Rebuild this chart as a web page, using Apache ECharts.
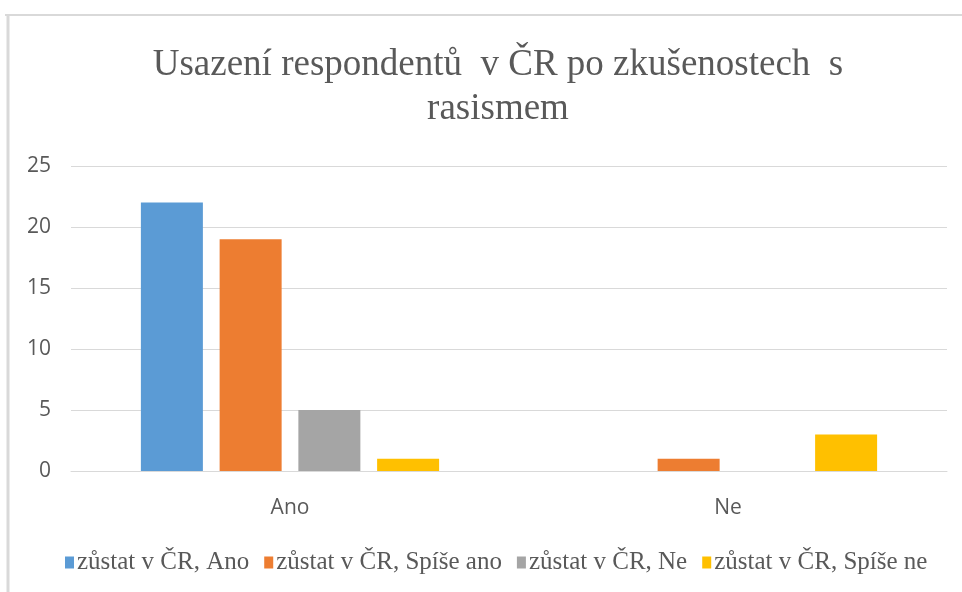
<!DOCTYPE html>
<html>
<head>
<meta charset="utf-8">
<script src="https://cdn.jsdelivr.net/npm/echarts@6/dist/echarts.min.js"></script>
<style>
  html, body { margin: 0; padding: 0; background: #fff; }
  #chart { width: 962px; height: 592px; }
</style>
</head>
<body>
<div id="chart"></div>
<script>
// kategorie a hodnoty
var categories = ['Ano', 'Ne'];
var seriesNames = ['zůstat v ČR, Ano', 'zůstat v ČR, Spíše ano', 'zůstat v ČR, Ne', 'zůstat v ČR, Spíše ne'];
var valuesAno = [22, 0];
var valuesSpiseAno = [19, 1];
var valuesNe = [5, 0];
var valuesSpiseNe = [1, 3];
var colors = ['#5B9BD5', '#ED7D31', '#A5A5A5', '#FFC000'];

var chart = echarts.init(document.getElementById('chart'));

var allValues = [valuesAno, valuesSpiseAno, valuesNe, valuesSpiseNe];
var series = seriesNames.map(function (name, i) {
  return {
    name: name,
    type: 'bar',
    data: allValues[i],
    barWidth: 62,
    barGap: '27%',
    itemStyle: { color: colors[i] }
  };
});

var option = {
  animation: false,
  title: {
    text: 'Usazení respondentů  v ČR po zkušenostech  s\nrasismem',
    left: 493,
    textAlign: 'center',
    top: 38,
    textStyle: {
      fontFamily: 'Liberation Serif',
      fontWeight: 'normal',
      fontSize: 37,
      lineHeight: 44,
      color: '#595959'
    }
  },
  legend: {
    data: seriesNames,
    bottom: 12,
    left: 60,
    icon: 'rect',
    itemWidth: 9,
    itemHeight: 12,
    itemGap: 15,
    textStyle: {
      fontFamily: 'Liberation Serif',
      fontSize: 25,
      color: '#595959',
      padding: [0, 0, 0, -2]
    }
  },
  grid: {
    left: 71,
    right: 15,
    top: 166,
    bottom: 121
  },
  xAxis: {
    type: 'category',
    data: categories,
    axisTick: { show: false },
    axisLine: { lineStyle: { color: '#d9d9d9', width: 1 } },
    axisLabel: {
      fontFamily: 'Open Sans',
      fontSize: 21,
      color: '#595959',
      margin: 27
    }
  },
  yAxis: {
    type: 'value',
    min: 0,
    max: 25,
    interval: 5,
    axisLine: { show: false },
    axisTick: { show: false },
    axisLabel: {
      fontFamily: 'Open Sans',
      fontSize: 21,
      color: '#595959',
      margin: 20
    },
    splitLine: { lineStyle: { color: '#d9d9d9', width: 1 } }
  },
  graphic: [
    {
      type: 'line',
      shape: { x1: 5, y1: 15, x2: 962, y2: 15 },
      style: { stroke: '#d9d9d9', lineWidth: 2 }
    },
    {
      type: 'line',
      shape: { x1: 8, y1: 15, x2: 8, y2: 592 },
      style: { stroke: '#d9d9d9', lineWidth: 3 }
    }
  ],
  series: series
};

chart.setOption(option);
</script>
</body>
</html>
